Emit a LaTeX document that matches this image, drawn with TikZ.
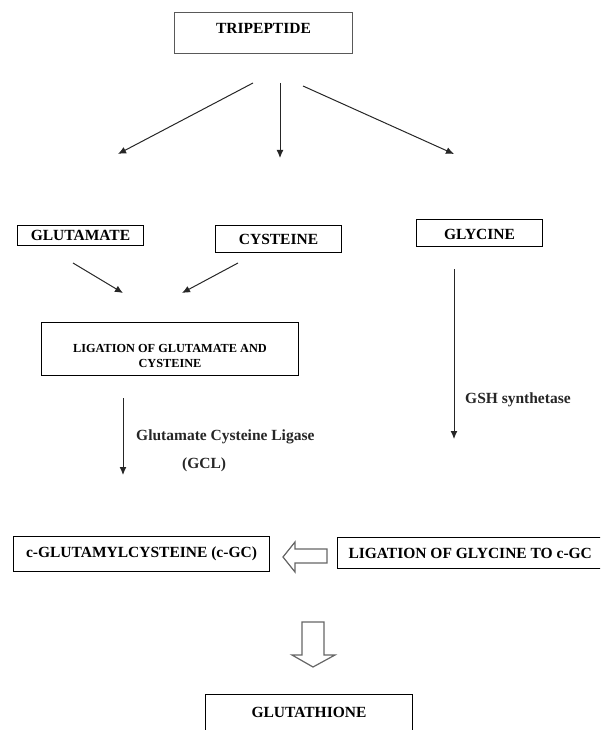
\documentclass[tikz,border=0pt]{standalone}
\usepackage{fontspec}
\setmainfont{Liberation Serif}
\usepackage{xcolor}
\usepackage{tikz}
\usetikzlibrary{calc}
\usetikzlibrary{positioning,arrows.meta}

\begin{document}
\begin{tikzpicture}[x=1pt,y=-1pt,
		box/.style={draw,line width=1pt,inner xsep=0pt,inner ysep=0pt,anchor=north west,font=\fontsize{15.5}{18}\selectfont\bfseries},
		lbl/.style={anchor=base west,inner sep=0pt,font=\fontsize{15.5}{18}\selectfont\bfseries,text=black!85},
		link/.style={-{Latex[length=8pt,width=7pt]},line width=1pt,black!85},
		hollow/.style={draw=black!60,line width=1.2pt,fill=white}]
		\useasboundingbox (0,0) rectangle (600,730);
		\clip (0,0) rectangle (600,730);
		% boxes
		\node[box,draw=black!65,minimum width=178pt,text height=21pt,text depth=20pt] (trip) at (174,12) {TRIPEPTIDE};
		\node[box,minimum width=126pt,text height=15pt,text depth=5pt] (glu) at (17,225) {GLUTAMATE};
		\node[box,minimum width=126pt,text height=19pt,text depth=8pt] (cys) at (215,225) {CYSTEINE};
		\node[box,minimum width=126pt,text height=20pt,text depth=7pt] (gly) at (416,219) {GLYCINE};
		\node[box,minimum width=257pt,text height=45pt,text depth=8pt,font=\fontsize{12.3}{15}\selectfont\bfseries] (ligcys) at (41,322) {\begin{tabular}[b]{@{}c@{}}LIGATION OF GLUTAMATE AND\\CYSTEINE\end{tabular}};
		\node[box,minimum width=256pt,text height=21pt,text depth=14pt] (gc) at (13,536) {c-GLUTAMYLCYSTEINE (c-GC)};
		\node[box,inner xsep=11pt,text height=21pt,text depth=10pt] (liggly) at (337,537) {LIGATION OF GLYCINE TO c-GC};
		\node[box,minimum width=207pt,text height=23pt,text depth=28pt] (gsh) at (205,694) {GLUTATHIONE};
		% enzyme labels
		\node[lbl] (gcl) at (136,440) {Glutamate Cysteine Ligase};
		\node[lbl] (gclabbr) at (182,468) {(GCL)};
		\node[lbl] (gshs) at (465,403) {GSH synthetase};
		% arrow ends
		\coordinate (t1) at (253,83);	\coordinate (t1e) at (118,154);
		\coordinate (t2) at (280,83);	\coordinate (t2e) at (280,158);
		\coordinate (t3) at (303,86);	\coordinate (t3e) at (454,154);
		\coordinate (g1) at (73,263);	\coordinate (g1e) at (123,293);
		\coordinate (c1) at (238,263);	\coordinate (c1e) at (182,293);
		\coordinate (l1) at (123,398);	\coordinate (l1e) at (123,475);
		\coordinate (y1) at (454,269);	\coordinate (y1e) at (454,439);
		\draw[link] (t1) -- (t1e);
		\draw[link] (t2) -- (t2e);
		\draw[link] (t3) -- (t3e);
		\draw[link] (g1) -- (g1e);
		\draw[link] (c1) -- (c1e);
		\draw[link] (l1) -- (l1e);
		\draw[link] (y1) -- (y1e);
		% block arrows
		\draw[hollow] (327,549) -- (295,549) -- (295,542) -- (283,557) -- (295,572) -- (295,563) -- (327,563) -- cycle;
		\draw[hollow] (302,622) -- (324,622) -- (324,655) -- (335,655) -- (313,667) -- (292,655) -- (302,655) -- cycle;
	\end{tikzpicture}
\end{document}
